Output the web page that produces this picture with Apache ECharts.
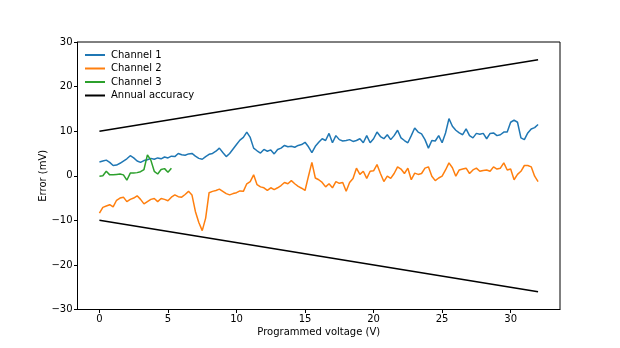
<!DOCTYPE html>
<html><head><meta charset="utf-8">
<script src="https://cdn.jsdelivr.net/npm/echarts@6/dist/echarts.min.js"></script>
<style>html,body{margin:0;padding:0;background:#fff}#c{width:620px;height:348px}</style>
</head><body><div id="c"></div>
<script>
const voltageStep = 0.25;
const channel1 = [3.1,3.3,3.5,3.0,2.3,2.4,2.8,3.3,3.8,4.5,4.0,3.3,3.0,3.4,3.6,3.9,3.7,4.0,3.8,4.2,4.0,4.4,4.3,5.0,4.7,4.6,4.9,5.0,4.4,3.9,3.7,4.3,4.8,5.0,5.5,6.2,5.2,4.3,5.0,6.0,7.0,8.0,8.6,9.8,8.6,6.2,5.6,5.1,5.9,5.5,5.8,4.9,5.9,6.2,6.8,6.5,6.6,6.4,6.8,7.0,7.5,6.5,5.2,6.6,7.5,8.3,7.9,9.5,7.4,9.0,8.1,7.8,7.9,8.1,7.7,7.9,8.3,7.4,9.0,7.4,8.3,9.8,8.8,8.3,9.2,8.1,9.0,10.2,8.5,7.9,7.4,9.0,10.7,9.8,9.4,8.1,6.2,7.9,7.8,9.0,7.4,9.6,12.8,11.1,10.2,9.6,9.2,10.5,9.0,8.5,9.5,9.3,9.5,8.3,9.5,9.6,9.0,9.2,9.8,9.8,12.0,12.5,12.0,8.5,8.1,9.6,10.5,10.8,11.5];
const channel2 = [-8.4,-7.1,-6.8,-6.5,-7.0,-5.5,-5.0,-4.8,-5.8,-5.3,-5.0,-4.5,-5.3,-6.3,-5.8,-5.3,-5.1,-5.8,-5.1,-5.3,-5.6,-4.8,-4.3,-4.7,-4.8,-4.2,-3.5,-4.3,-8.0,-10.5,-12.3,-9.5,-3.8,-3.5,-3.3,-3.0,-3.5,-4.0,-4.3,-4.0,-3.8,-3.4,-3.5,-1.8,-1.3,0.2,-2.0,-2.5,-2.7,-3.3,-2.7,-3.1,-2.7,-2.2,-1.5,-1.8,-1.1,-1.8,-2.4,-2.8,-3.3,-0.1,3.0,-0.5,-0.9,-1.5,-2.5,-1.8,-2.7,-1.3,-1.7,-1.5,-3.5,-1.5,-0.6,1.7,0.3,1.0,-0.6,1.0,1.1,2.5,0.5,-1.3,-0.1,-0.6,0.5,2.0,1.5,0.5,1.7,-0.9,0.6,0.3,0.5,1.7,2.0,-0.1,-1.1,-0.5,-0.1,1.3,2.9,1.8,-0.1,1.3,1.5,1.7,0.5,1.3,1.7,1.0,1.2,1.3,1.0,2.0,1.5,1.7,2.9,1.3,1.5,-0.9,0.3,1.0,2.3,2.3,2.0,-0.1,-1.3];
const channel3 = [-0.1,0.0,1.0,0.2,0.2,0.3,0.4,0.2,-1.0,0.6,0.6,0.7,0.9,1.4,4.7,3.5,1.0,0.4,1.4,1.6,0.8,1.7];
const accuracyX = [0, 32];
const accuracyUpper = [10, 26];
const accuracyLower = [-10, -26];
const xTicks = [0, 5, 10, 15, 20, 25, 30];
const yTicks = [-30, -20, -10, 0, 10, 20, 30];

function pairs(vals) { return vals.map((v, i) => [i * voltageStep, v]); }
function pairsXY(xs, ys) { return xs.map((x, i) => [x, ys[i]]); }
const fmt = v => String(v).replace('-', '\u2212');
const FONT = 'DejaVu Sans';

const chart = echarts.init(document.getElementById('c'), null, {renderer: 'canvas'});
chart.setOption({
  animation: false,
  textStyle: {fontFamily: FONT},
  grid: {left: 77.5, right: 60, top: 42, bottom: 38.5, show: true, borderColor: '#000', borderWidth: 1, containLabel: false},
  legend: {
    orient: 'vertical', left: 80, top: 45, itemWidth: 20, itemHeight: 2, itemGap: 3.5, icon: 'rect',
    textStyle: {fontFamily: FONT, fontSize: 10, color: '#000', padding: [0, 0, 0, 1]},
    data: ['Channel 1', 'Channel 2', 'Channel 3', 'Annual accuracy']
  },
  xAxis: {
    type: 'value', min: -1.6, max: 33.6,
    name: 'Programmed voltage (V)', nameLocation: 'middle', nameGap: 18, nameMoveOverlap: false,
    nameTextStyle: {fontFamily: FONT, fontSize: 10, color: '#000'},
    axisLine: {show: true, onZero: false, lineStyle: {color: '#000', width: 1}},
    axisTick: {show: true, inside: false, length: 3.5, lineStyle: {color: '#000'}, customValues: xTicks},
    axisLabel: {fontFamily: FONT, fontSize: 10, color: '#000', margin: 5, customValues: xTicks, formatter: fmt},
    splitLine: {show: false}
  },
  yAxis: {
    type: 'value', min: -30, max: 30,
    name: 'Error (mV)', nameLocation: 'middle', nameGap: 29, nameMoveOverlap: false,
    nameTextStyle: {fontFamily: FONT, fontSize: 10, color: '#000'},
    axisLine: {show: true, onZero: false, lineStyle: {color: '#000', width: 1}},
    axisTick: {show: true, inside: false, length: 3.5, lineStyle: {color: '#000'}, customValues: yTicks},
    axisLabel: {fontFamily: FONT, fontSize: 10, color: '#000', margin: 5, customValues: yTicks, formatter: fmt},
    splitLine: {show: false}
  },
  series: [
    {name: 'Channel 1', type: 'line', data: pairs(channel1), showSymbol: false, symbol: 'none', lineStyle: {color: '#1f77b4', width: 1.5}, itemStyle: {color: '#1f77b4'}},
    {name: 'Channel 2', type: 'line', data: pairs(channel2), showSymbol: false, symbol: 'none', lineStyle: {color: '#ff7f0e', width: 1.5}, itemStyle: {color: '#ff7f0e'}},
    {name: 'Channel 3', type: 'line', data: pairs(channel3), showSymbol: false, symbol: 'none', lineStyle: {color: '#2ca02c', width: 1.5}, itemStyle: {color: '#2ca02c'}},
    {name: 'Annual accuracy', type: 'line', data: pairsXY(accuracyX, accuracyUpper), showSymbol: false, symbol: 'none', lineStyle: {color: '#000', width: 1.5}, itemStyle: {color: '#000'}},
    {name: 'Annual accuracy', type: 'line', data: pairsXY(accuracyX, accuracyLower), showSymbol: false, symbol: 'none', lineStyle: {color: '#000', width: 1.5}, itemStyle: {color: '#000'}}
  ]
});
</script></body></html>
